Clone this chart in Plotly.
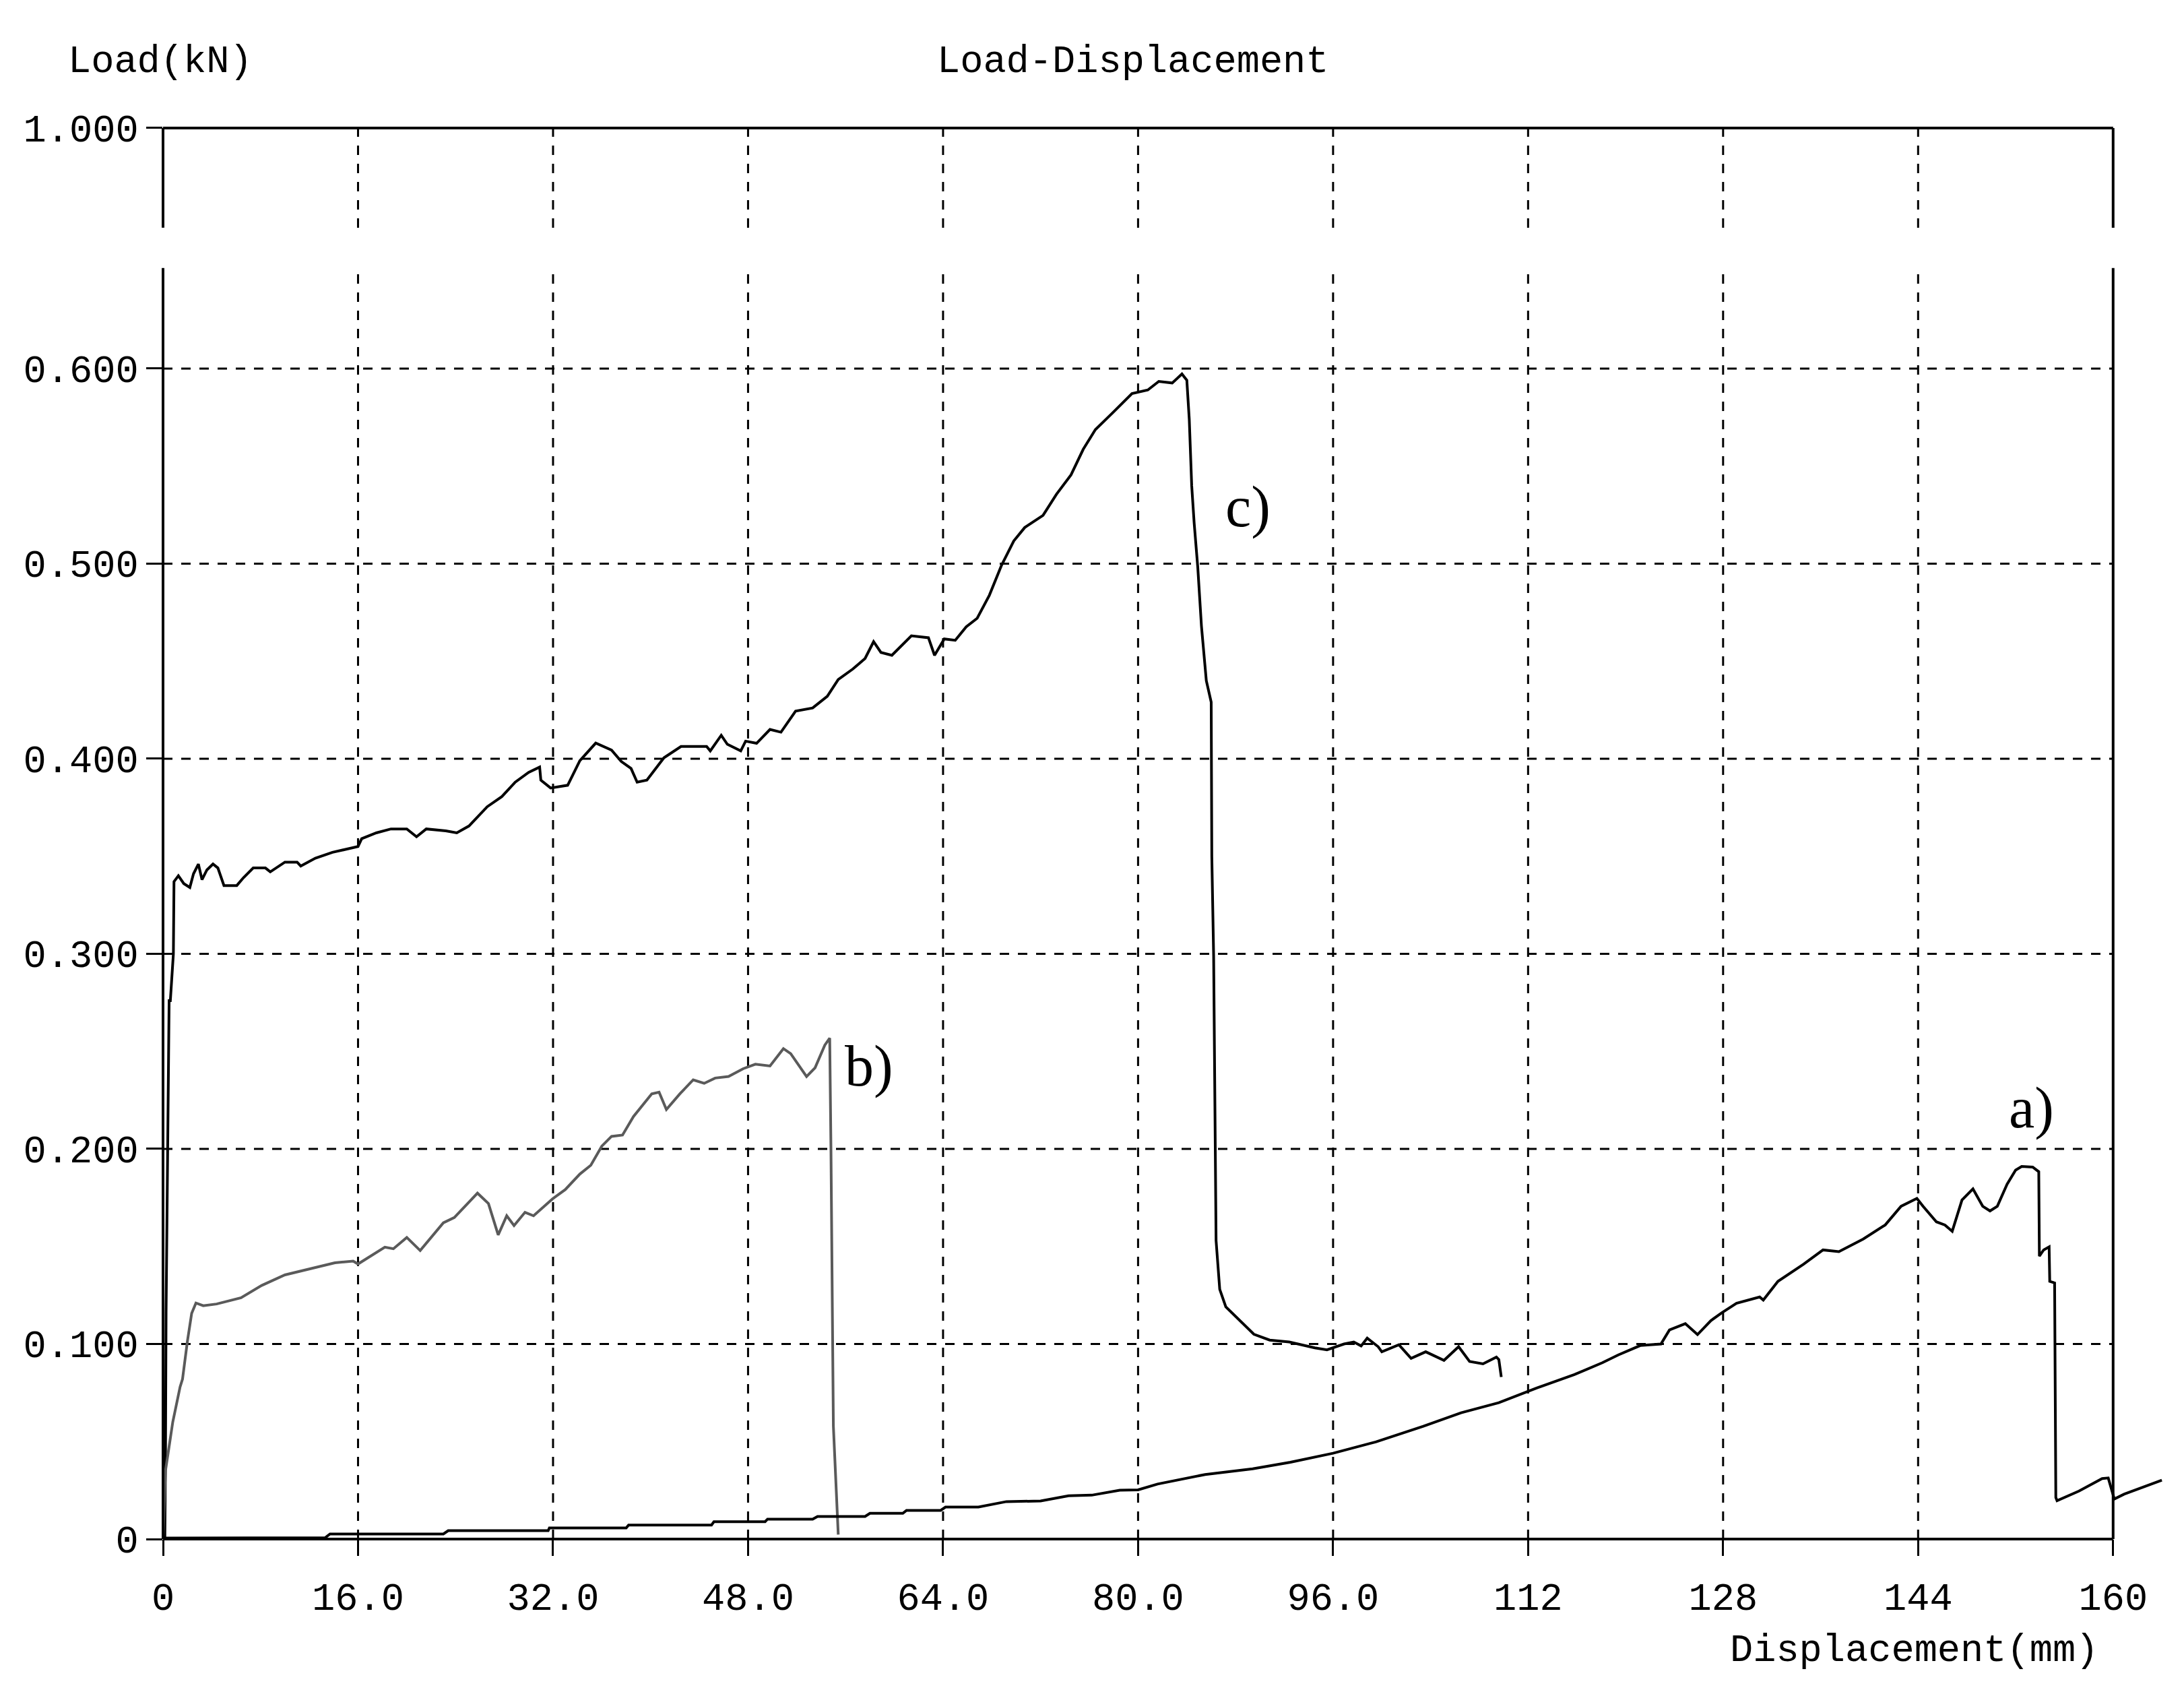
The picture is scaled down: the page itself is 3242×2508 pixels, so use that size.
import plotly.graph_objects as go

# ---------------- data ----------------
x_ticks = [0, 16, 32, 48, 64, 80, 96, 112, 128, 144, 160]
x_ticktext = ["0", "16.0", "32.0", "48.0", "64.0", "80.0", "96.0", "112", "128", "144", "160"]
y_ticks = [0, 0.1, 0.2, 0.3, 0.4, 0.5, 0.6]
y_ticktext = ["0", "0.100", "0.200", "0.300", "0.400", "0.500", "0.600"]
y_top_text = "1.000"

# curve a)
a_x = [0, 13.3, 13.7, 23.0, 23.4, 31.6, 31.7, 38.0, 38.2, 45.0, 45.2, 49.4, 49.6, 53.3,
       53.7, 57.6, 58.0, 60.7, 61.0, 63.8, 64.2, 66.9, 69.2, 72.0, 74.3, 76.2, 78.5, 80.0,
       81.6, 85.5, 89.4, 92.5, 96.0, 99.5, 103.4, 106.5, 109.6, 112.7, 115.8, 118.1, 119.4,
       121.2, 122.9, 123.6, 124.9, 125.9, 127.0, 127.9, 129.1, 131.0, 131.3, 132.5, 134.6,
       136.2, 137.5, 139.5, 141.3, 142.6, 143.9, 144.4, 145.5, 146.2, 146.8, 147.6, 148.5,
       149.3, 149.9, 150.5, 151.3, 152.0, 152.5, 153.4, 153.9, 153.95, 154.3, 154.75, 154.8,
       155.2, 155.3, 155.4, 157.2, 159.1, 159.6, 160.1, 160.9, 164.0]
a_y = [0.0005, 0.0007, 0.0026, 0.0026, 0.0043, 0.0043, 0.0057, 0.0057, 0.0072, 0.0072, 0.0089,
       0.0089, 0.0102, 0.0102, 0.0116, 0.0116, 0.0132, 0.0132, 0.0147, 0.0147, 0.0164, 0.0164,
       0.0192, 0.0195, 0.0222, 0.0225, 0.0250, 0.0252, 0.0282, 0.0331, 0.0360, 0.0394, 0.0440,
       0.0498, 0.0578, 0.0647, 0.0699, 0.0774, 0.0843, 0.0904, 0.0944, 0.0992, 0.1000, 0.1072,
       0.1104, 0.1048, 0.1120, 0.1160, 0.1209, 0.1241, 0.1225, 0.1321, 0.1409, 0.1482, 0.1473,
       0.1538, 0.1610, 0.1706, 0.1746, 0.1706, 0.1626, 0.1610, 0.1578, 0.1738, 0.1795, 0.1706,
       0.1682, 0.1706, 0.1819, 0.1891, 0.1910, 0.1907, 0.1883, 0.1450, 0.1482, 0.1498, 0.1321,
       0.1313, 0.0213, 0.0197, 0.0246, 0.0310, 0.0313, 0.0205, 0.0230, 0.0302]

# curve b)
b_x = [0.0, 0.2, 0.8, 1.4, 1.6, 2.0, 2.35, 2.7, 3.3, 4.4, 6.4, 8.1, 10.0, 11.8, 14.1, 15.6,
       16.0, 18.2, 18.9, 20.0, 21.1, 23.0, 23.9, 25.8, 26.7, 27.5, 28.2, 28.8, 29.7, 30.4,
       32.0, 33.0, 34.2, 35.1, 36.0, 36.8, 37.7, 38.6, 39.4, 40.1, 40.7, 41.3, 42.4, 43.5,
       44.4, 45.3, 46.4, 47.6, 48.6, 49.8, 50.9, 51.5, 52.8, 53.5, 54.3, 54.7, 54.8, 55.0, 55.4]
b_y = [0.0, 0.035, 0.060, 0.078, 0.082, 0.1014, 0.1157, 0.121, 0.1196, 0.1205, 0.1237, 0.130,
       0.1354, 0.138, 0.1416, 0.1425, 0.141, 0.1496, 0.1488, 0.1546, 0.1479, 0.1621, 0.1648,
       0.1773, 0.172, 0.1559, 0.1657, 0.1607, 0.1675, 0.1657, 0.1746, 0.1791, 0.1871, 0.1916,
       0.2014, 0.2064, 0.2071, 0.2166, 0.2229, 0.2282, 0.2291, 0.2202, 0.2282, 0.2354, 0.2336,
       0.2363, 0.2371, 0.2411, 0.2434, 0.2425, 0.2514, 0.2488, 0.2371, 0.2416, 0.2532, 0.2568,
       0.2014, 0.058, 0.0023]

# curve c)
c_x = [0.0, 0.15, 0.2, 0.25, 0.35, 0.5, 0.6, 0.85, 0.9, 1.26, 1.7, 2.2, 2.5, 2.9, 3.2, 3.6,
       4.1, 4.5, 5.0, 6.05, 6.6, 7.4, 8.4, 8.8, 10.0, 11.0, 11.3, 12.5, 13.9, 16.0, 16.3, 17.5,
       18.7, 20.0, 20.8, 21.6, 23.2, 24.1, 25.1, 26.6, 27.8, 28.9, 30.0, 30.9, 31.0, 31.8,
       33.2, 34.2, 35.5, 36.8, 37.6, 38.4, 38.9, 39.7, 41.1, 42.5, 44.6, 44.9, 45.8, 46.3,
       47.4, 47.8, 48.7, 49.8, 50.7, 51.9, 53.3, 54.5, 55.4, 56.6, 57.6, 58.3, 58.9, 59.8,
       61.4, 62.8, 63.3, 64.1, 65.0, 65.9, 66.8, 67.8, 68.8, 69.8, 70.7, 72.2, 73.3, 74.5,
       75.5, 76.5, 77.9, 79.5, 80.8, 81.7, 82.8, 83.6, 84.0, 84.2, 84.4, 84.6, 84.9, 85.2,
       85.6, 86.0, 86.05, 86.2, 86.4, 86.7, 87.2, 88.0, 89.5, 90.8, 92.4, 94.5, 95.5, 96.9,
       97.7, 98.3, 98.8, 99.7, 100.0, 101.4, 102.4, 103.6, 105.1, 106.3, 107.2, 108.3, 109.4,
       109.6, 109.8]
c_y = [0.0, 0.0, 0.04, 0.116, 0.18, 0.276, 0.276, 0.30, 0.337, 0.340, 0.336, 0.334, 0.341,
       0.346, 0.338, 0.343, 0.346, 0.344, 0.335, 0.335, 0.339, 0.344, 0.344, 0.342, 0.347,
       0.347, 0.345, 0.349, 0.352, 0.355, 0.359, 0.362, 0.364, 0.364, 0.360, 0.364, 0.363,
       0.362, 0.3655, 0.3754, 0.3806, 0.388, 0.393, 0.3957, 0.389, 0.385, 0.3864, 0.399, 0.408,
       0.4044, 0.3986, 0.395, 0.388, 0.389, 0.4005, 0.4063, 0.4063, 0.404, 0.412, 0.4074,
       0.404, 0.409, 0.4079, 0.415, 0.4136, 0.4244, 0.426, 0.432, 0.4406, 0.446, 0.4514, 0.460,
       0.4545, 0.453, 0.463, 0.462, 0.453, 0.4614, 0.4607, 0.4676, 0.472, 0.4838, 0.4992,
       0.5116, 0.5185, 0.5247, 0.5355, 0.5455, 0.5586, 0.5687, 0.5772, 0.5872, 0.589, 0.5934,
       0.5926, 0.5972, 0.594, 0.574, 0.540, 0.521, 0.498, 0.468, 0.440, 0.429, 0.350, 0.299,
       0.153, 0.128, 0.119, 0.114, 0.105, 0.102, 0.101, 0.098, 0.097, 0.100, 0.101, 0.099,
       0.103, 0.0986, 0.096, 0.0996, 0.0926, 0.096, 0.0916, 0.0986, 0.091, 0.0898, 0.0933,
       0.092, 0.0831]

curve_labels = ["a)", "b)", "c)"]
label_x = [153.3, 57.9, 89.0]
label_y = [0.221, 0.2425, 0.529]

# ---------------- layout geometry ----------------
W, H = 3242, 2508
Y_TOP = 0.7233          # where the broken axis places "1.000"
GAP_LO, GAP_HI = 0.6515, 0.6722   # axis break band
X_MAX_AXIS = 160
XR = [0, 164.6]
YR = [0, Y_TOP + 0.01]
ML, MR, MT, MB = 242, 21.7, 161, 224


def xp(v):
    return (v - XR[0]) / (XR[1] - XR[0])


def yp(v):
    return (v - YR[0]) / (YR[1] - YR[0])


FONT = "Liberation Mono, DejaVu Sans Mono, monospace"

fig = go.Figure()
fig.add_trace(go.Scatter(x=c_x, y=c_y, mode="lines", line=dict(color="black", width=4),
                         showlegend=False, hoverinfo="skip"))
fig.add_trace(go.Scatter(x=b_x, y=b_y, mode="lines", line=dict(color="#5a5a5a", width=4),
                         showlegend=False, hoverinfo="skip"))
fig.add_trace(go.Scatter(x=a_x, y=a_y, mode="lines", line=dict(color="black", width=4),
                         showlegend=False, hoverinfo="skip"))

shapes = []
grid = dict(color="black", width=3, dash="14px,13px")
for v in y_ticks[1:]:
    shapes.append(dict(type="line", xref="x", yref="y", x0=0, x1=X_MAX_AXIS, y0=v, y1=v,
                       line=grid, layer="below"))
for v in x_ticks[1:-1]:
    shapes.append(dict(type="line", xref="x", yref="y", x0=v, x1=v, y0=0, y1=GAP_LO,
                       line=grid, layer="below"))
    shapes.append(dict(type="line", xref="x", yref="y", x0=v, x1=v, y0=GAP_HI, y1=Y_TOP,
                       line=grid, layer="below"))

frame = dict(color="black", width=4)
shapes.append(dict(type="line", xref="paper", yref="paper", x0=xp(0), x1=xp(X_MAX_AXIS),
                   y0=yp(0), y1=yp(0), line=frame))
shapes.append(dict(type="line", xref="paper", yref="paper", x0=xp(0), x1=xp(X_MAX_AXIS),
                   y0=yp(Y_TOP), y1=yp(Y_TOP), line=frame))
for xv in (0, X_MAX_AXIS):
    shapes.append(dict(type="line", xref="paper", yref="paper", x0=xp(xv), x1=xp(xv),
                       y0=yp(0), y1=yp(GAP_LO), line=frame))
    shapes.append(dict(type="line", xref="paper", yref="paper", x0=xp(xv), x1=xp(xv),
                       y0=yp(GAP_HI), y1=yp(Y_TOP), line=frame))

annotations = []
for t, xv, yv in zip(curve_labels, label_x, label_y):
    annotations.append(dict(text=t, x=xv, y=yv, xref="x", yref="y", showarrow=False,
                            font=dict(family="Liberation Serif, serif", size=86, color="black"),
                            xanchor="center", yanchor="middle"))
tfont = dict(family=FONT, size=57, color="black")
annotations.append(dict(text="Load(kN)", x=xp(-7.9), y=yp(0.757), xref="paper", yref="paper",
                        showarrow=False, font=tfont, xanchor="left", yanchor="middle"))
annotations.append(dict(text="Load-Displacement", x=xp(79.6), y=yp(0.757), xref="paper",
                        yref="paper", showarrow=False, font=tfont,
                        xanchor="center", yanchor="middle"))
annotations.append(dict(text="Displacement(mm)", x=xp(158.9), y=yp(-0.0573), xref="paper",
                        yref="paper", showarrow=False, font=tfont,
                        xanchor="right", yanchor="middle"))

fig.update_layout(
    width=W, height=H,
    margin=dict(l=ML, r=MR, t=MT, b=MB, autoexpand=False),
    paper_bgcolor="white", plot_bgcolor="white",
    showlegend=False,
    shapes=shapes, annotations=annotations,
    xaxis=dict(range=XR, tickvals=x_ticks, ticktext=x_ticktext, ticks="outside",
               ticklen=24, tickwidth=3, tickcolor="black", showgrid=False, zeroline=False,
               showline=False, tickfont=tfont, ticklabelstandoff=12),
    yaxis=dict(range=YR, tickvals=y_ticks + [Y_TOP], ticktext=y_ticktext + [y_top_text],
               ticks="outside", ticklen=24, tickwidth=3, tickcolor="black", showgrid=False,
               zeroline=False, showline=False, tickfont=tfont, ticklabelstandoff=0),
)

fig.write_html("out.html", config={"displayModeBar": False},
               post_script="document.body.style.margin='0';document.body.style.overflow='hidden';")
